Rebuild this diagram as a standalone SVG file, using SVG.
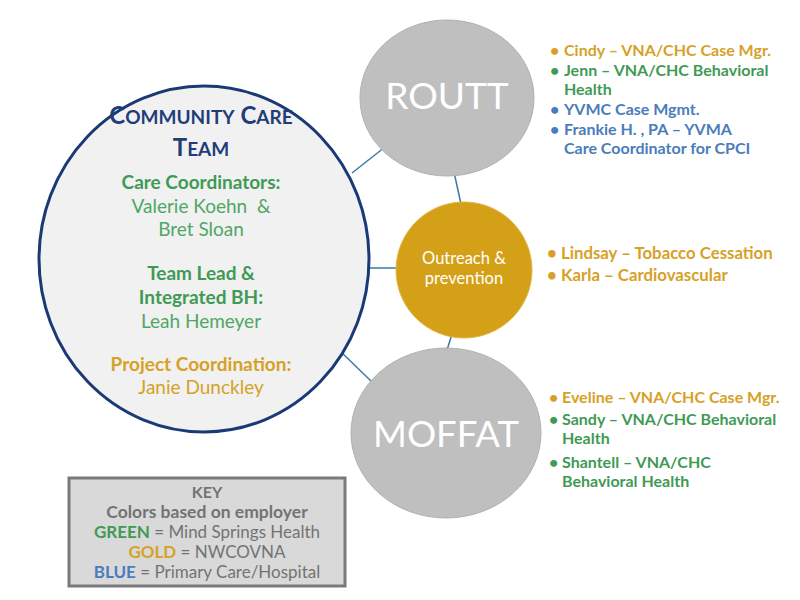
<svg xmlns="http://www.w3.org/2000/svg" width="800" height="600" viewBox="0 0 800 600">
<style>
text{font-family:Lato,"Open Sans","Liberation Sans",sans-serif}
.c{text-anchor:middle}
.b{font-weight:bold}
.g{fill:#3f9a55}
.gl{fill:#4ea765}
.y{fill:#d6a126}
.bl{fill:#4a7cbc}
.k{fill:#737373}
.li{font-size:16px;font-weight:bold}
.in{font-size:19px}
.conn{stroke:#3b7aa6;stroke-width:1.5;fill:none}
.gray{fill:#bfbfbf;stroke:#b0b0b0;stroke-width:1}
.w{fill:#ffffff}
</style>
<rect width="800" height="600" fill="#ffffff"/>
<g id="connectors">
<line class="conn" x1="352" y1="173" x2="385" y2="147"/>
<line class="conn" x1="454" y1="172" x2="461" y2="204"/>
<line class="conn" x1="366" y1="268" x2="397" y2="268"/>
<line class="conn" x1="452" y1="334" x2="447" y2="350"/>
<line class="conn" x1="338" y1="349" x2="373" y2="383"/>
</g>
<g id="team">
<ellipse cx="204" cy="259" rx="165" ry="173" fill="#f1f1f1" stroke="#1b3a75" stroke-width="3"/>
<text class="c b" x="201" y="124" fill="#1f3d78" font-size="24">C<tspan font-size="19">OMMUNITY</tspan> C<tspan font-size="19">ARE</tspan></text>
<text class="c b" x="201" y="156" fill="#1f3d78" font-size="24">T<tspan font-size="19">EAM</tspan></text>
<text class="c b g in" x="201" y="189">Care Coordinators:</text>
<text class="c gl in" x="201" y="213" xml:space="preserve" style="white-space:pre">Valerie Koehn  &amp;</text>
<text class="c gl in" x="201" y="236">Bret Sloan</text>
<text class="c b g in" x="201" y="280">Team Lead &amp;</text>
<text class="c b g in" x="201" y="304">Integrated BH:</text>
<text class="c gl in" x="201" y="328">Leah Hemeyer</text>
<text class="c b y in" x="201" y="371">Project Coordination:</text>
<text class="c y in" x="201" y="394">Janie Dunckley</text>
</g>
<g id="routt">
<ellipse class="gray" cx="447" cy="98" rx="87" ry="78"/>
<text class="c w" x="447" y="109" font-size="37">ROUTT</text>
</g>
<g id="outreach">
<circle cx="464" cy="270" r="68" fill="#d4a017" stroke="#e0b84a" stroke-width="1"/>
<text class="c w" x="464" y="264" font-size="16.5">Outreach &amp;</text>
<text class="c w" x="464" y="284" font-size="16.5">prevention</text>
</g>
<g id="moffat">
<ellipse class="gray" cx="446" cy="433" rx="95" ry="85"/>
<text class="c w" x="446" y="447" font-size="36.5">MOFFAT</text>
</g>
<g id="routt-list" class="li">
<text class="y" x="550" y="56">•</text><text class="y" x="564" y="56">Cindy – VNA/CHC Case Mgr.</text>
<text class="g" x="550" y="76">•</text><text class="g" x="564" y="76">Jenn – VNA/CHC Behavioral</text>
<text class="g" x="564" y="95">Health</text>
<text class="bl" x="550" y="115">•</text><text class="bl" x="564" y="115">YVMC Case Mgmt.</text>
<text class="bl" x="550" y="135">•</text><text class="bl" x="564" y="135">Frankie H. , PA – YVMA</text>
<text class="bl" x="564" y="154">Care Coordinator for CPCI</text>
</g>
<g id="outreach-list" class="li" font-size="16.8">
<text class="y" x="547" y="259" style="font-size:16.8px">•</text><text class="y" x="561" y="259" style="font-size:16.8px">Lindsay – Tobacco Cessation</text>
<text class="y" x="547" y="281" style="font-size:16.8px">•</text><text class="y" x="561" y="281" style="font-size:16.8px">Karla – Cardiovascular</text>
</g>
<g id="moffat-list" class="li">
<text class="y" x="549" y="403">•</text><text class="y" x="562" y="403">Eveline – VNA/CHC Case Mgr.</text>
<text class="g" x="549" y="425">•</text><text class="g" x="562" y="425">Sandy – VNA/CHC Behavioral</text>
<text class="g" x="562" y="444">Health</text>
<text class="g" x="549" y="468">•</text><text class="g" x="562" y="468">Shantell – VNA/CHC</text>
<text class="g" x="562" y="487">Behavioral Health</text>
</g>
<g id="key">
<rect x="69" y="478" width="276" height="108" fill="#d9d9d9" stroke="#7a7a7a" stroke-width="3"/>
<text class="c b k" x="207" y="498" font-size="16">KEY</text>
<text class="c b k" x="207" y="518" font-size="17.5">Colors based on employer</text>
<text class="c k" x="207" y="538" font-size="17"><tspan class="b g">GREEN</tspan> = Mind Springs Health</text>
<text class="c k" x="207" y="558" font-size="17"><tspan class="b y">GOLD</tspan> = NWCOVNA</text>
<text class="c k" x="207" y="578" font-size="17"><tspan class="b bl">BLUE</tspan> = Primary Care/Hospital</text>
</g>
</svg>
